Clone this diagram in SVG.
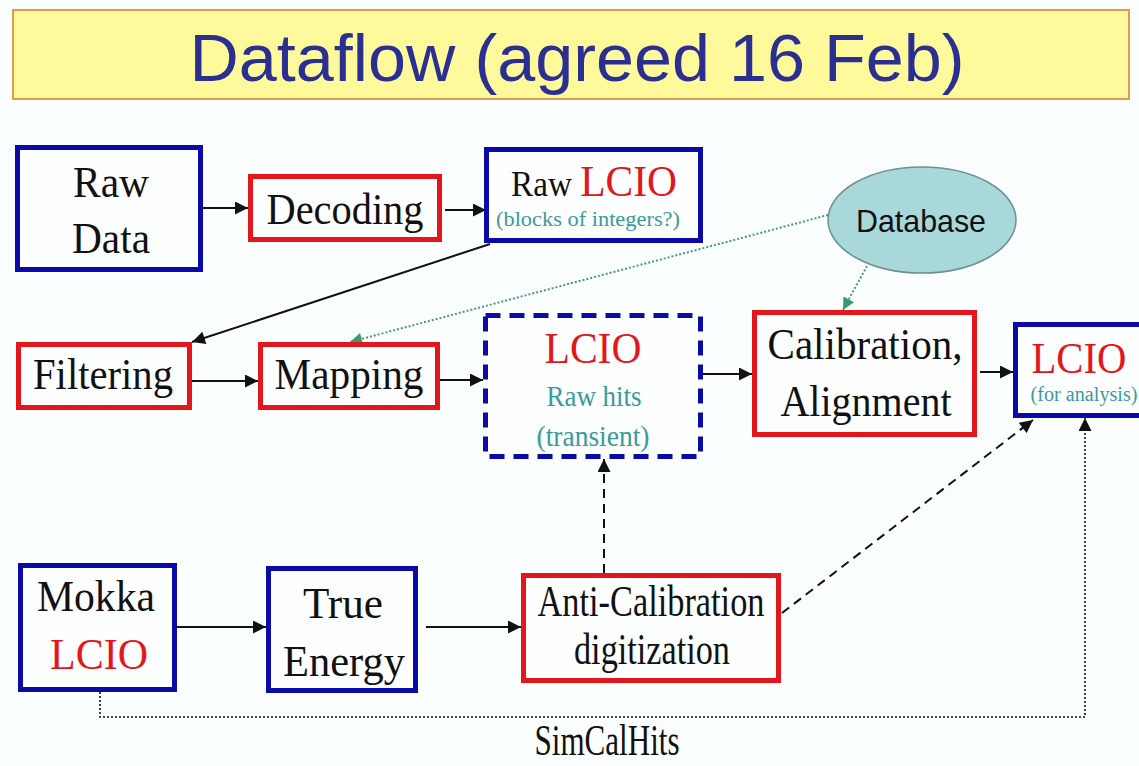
<svg xmlns="http://www.w3.org/2000/svg" width="1139" height="766" viewBox="0 0 1139 766">
<defs>
<style>
.serif{font-family:"Liberation Serif","Times New Roman",serif;}
.blue{fill:#fdfefe;stroke:#0a0aa8;stroke-width:5;}
.red{fill:#fdfefe;stroke:#e3171b;stroke-width:5;}
.t{font-size:45px;fill:#111;text-anchor:middle;}
.rt{fill:#e3171b;}
.teal{fill:#3a9a9c;text-anchor:middle;}
.c{stroke:#111;stroke-width:2;fill:none;}
.dash{stroke-dasharray:9,6;}
.dot{stroke-dasharray:2,2;stroke-width:1.6;}
.g{stroke:#4a9a78;stroke-width:2;stroke-dasharray:2,2;fill:none;}
</style>
<marker id="ah" viewBox="0 0 10 10" refX="10" refY="5" markerWidth="15" markerHeight="13" markerUnits="userSpaceOnUse" orient="auto">
<path d="M0,0 L10,5 L0,10 z" fill="#111"/>
</marker>
<marker id="ahg" viewBox="0 0 10 10" refX="10" refY="5" markerWidth="14" markerHeight="12" markerUnits="userSpaceOnUse" orient="auto">
<path d="M0,0 L10,5 L0,10 z" fill="#3a9a6a"/>
</marker>
</defs>
<rect width="1139" height="766" fill="#fbfefe"/>
<g id="title">
<rect x="13" y="10" width="1116" height="89" fill="#fefa9c" stroke="#e39a4a" stroke-width="2"/>
<text x="577" y="81" font-family="'Liberation Sans',Arial,sans-serif" font-size="66" fill="#2b2f92" text-anchor="middle" textLength="775" lengthAdjust="spacingAndGlyphs">Dataflow (agreed 16 Feb)</text>
</g>
<g id="connectors">
<path class="c" d="M203,208 L248,208" marker-end="url(#ah)"/>
<path class="c" d="M445,210 L486,210" marker-end="url(#ah)"/>
<path class="c" d="M490,244 L192,342" marker-end="url(#ah)"/>
<path class="c" d="M192,381 L258,381" marker-end="url(#ah)"/>
<path class="c" d="M440,380 L483,380" marker-end="url(#ah)"/>
<path class="c" d="M703,374 L752,374" marker-end="url(#ah)"/>
<path class="c" d="M980,372 L1013,372" marker-end="url(#ah)"/>
<path class="c" d="M177,627 L266,627" marker-end="url(#ah)"/>
<path class="c" d="M426,627 L521,627" marker-end="url(#ah)"/>
<path class="c dash" d="M604,573 L604,459" marker-end="url(#ah)"/>
<path class="c dash" d="M782,613 L1033,420" marker-end="url(#ah)"/>
<path class="c dot" d="M100,692 L100,717 L1085,717 L1085,418" marker-end="url(#ah)"/>
<path class="g" d="M828,215 L350,342" marker-end="url(#ahg)"/>
<path class="g" d="M867,266 L843,310" marker-end="url(#ahg)"/>
</g>
<g id="rawdata">
<rect class="blue" x="17.5" y="147.5" width="183" height="122"/>
<text class="serif t" x="111" y="197" textLength="76" lengthAdjust="spacingAndGlyphs">Raw</text>
<text class="serif t" x="111" y="253" textLength="78" lengthAdjust="spacingAndGlyphs">Data</text>
</g>
<g id="decoding">
<rect class="red" x="250.5" y="176.5" width="189" height="63"/>
<text class="serif t" x="345" y="224" textLength="157" lengthAdjust="spacingAndGlyphs">Decoding</text>
</g>
<g id="rawlcio">
<rect class="blue" x="486.5" y="149.5" width="214" height="91"/>
<text class="serif" x="594" y="196" text-anchor="middle" textLength="166" lengthAdjust="spacingAndGlyphs"><tspan font-size="36" fill="#111">Raw </tspan><tspan class="rt" font-size="45">LCIO</tspan></text>
<text class="serif teal" x="588" y="226" font-size="20" textLength="184" lengthAdjust="spacingAndGlyphs">(blocks of integers?)</text>
</g>
<g id="database">
<ellipse cx="922" cy="220" rx="94" ry="53" fill="#a9d8db" stroke="#6f8f90" stroke-width="1.5"/>
<text x="921" y="232" font-family="'Liberation Sans',Arial,sans-serif" font-size="32" fill="#111" text-anchor="middle" textLength="130" lengthAdjust="spacingAndGlyphs">Database</text>
</g>
<g id="filtering">
<rect class="red" x="18.5" y="344.5" width="171" height="63"/>
<text class="serif t" x="103" y="389" textLength="140" lengthAdjust="spacingAndGlyphs">Filtering</text>
</g>
<g id="mapping">
<rect class="red" x="260.5" y="344.5" width="177" height="63"/>
<text class="serif t" x="349" y="389" textLength="149" lengthAdjust="spacingAndGlyphs">Mapping</text>
</g>
<g id="rawhits">
<rect x="485.5" y="315.5" width="215" height="141" fill="#fdfefe" stroke="#0a0aa8" stroke-width="5" stroke-dasharray="15,9"/>
<text class="serif rt" x="593" y="363" font-size="45" text-anchor="middle" textLength="97" lengthAdjust="spacingAndGlyphs">LCIO</text>
<text class="serif teal" x="594" y="406" font-size="30" textLength="95" lengthAdjust="spacingAndGlyphs">Raw hits</text>
<text class="serif teal" x="593" y="446" font-size="30" textLength="113" lengthAdjust="spacingAndGlyphs">(transient)</text>
</g>
<g id="calibration">
<rect class="red" x="754.5" y="312.5" width="220" height="122"/>
<text class="serif t" x="865" y="359" textLength="195" lengthAdjust="spacingAndGlyphs">Calibration,</text>
<text class="serif t" x="866" y="416" textLength="171" lengthAdjust="spacingAndGlyphs">Alignment</text>
</g>
<g id="lcioanalysis">
<rect class="blue" x="1015.5" y="324.5" width="140" height="91"/>
<text class="serif rt" x="1079" y="373" font-size="45" text-anchor="middle" textLength="95" lengthAdjust="spacingAndGlyphs">LCIO</text>
<text class="serif teal" x="1084" y="401" font-size="20" textLength="107" lengthAdjust="spacingAndGlyphs">(for analysis)</text>
</g>
<g id="mokka">
<rect class="blue" x="20.5" y="565.5" width="154" height="124"/>
<text class="serif t" x="96" y="611" textLength="118" lengthAdjust="spacingAndGlyphs">Mokka</text>
<text class="serif rt" x="99" y="669" font-size="45" text-anchor="middle" textLength="98" lengthAdjust="spacingAndGlyphs">LCIO</text>
</g>
<g id="trueenergy">
<rect class="blue" x="268.5" y="568.5" width="147" height="122"/>
<text class="serif t" x="343" y="618" textLength="80" lengthAdjust="spacingAndGlyphs">True</text>
<text class="serif t" x="344" y="676" textLength="122" lengthAdjust="spacingAndGlyphs">Energy</text>
</g>
<g id="anticalibration">
<rect class="red" x="523.5" y="575.5" width="255" height="105"/>
<text class="serif t" x="651" y="616" font-size="39" textLength="227" lengthAdjust="spacingAndGlyphs">Anti-Calibration</text>
<text class="serif t" x="652" y="664" font-size="39" textLength="156" lengthAdjust="spacingAndGlyphs">digitization</text>
</g>
<g id="simcalhits-label">
<text class="serif t" x="607" y="755" font-size="40" textLength="145" lengthAdjust="spacingAndGlyphs">SimCalHits</text>
</g>
</svg>
